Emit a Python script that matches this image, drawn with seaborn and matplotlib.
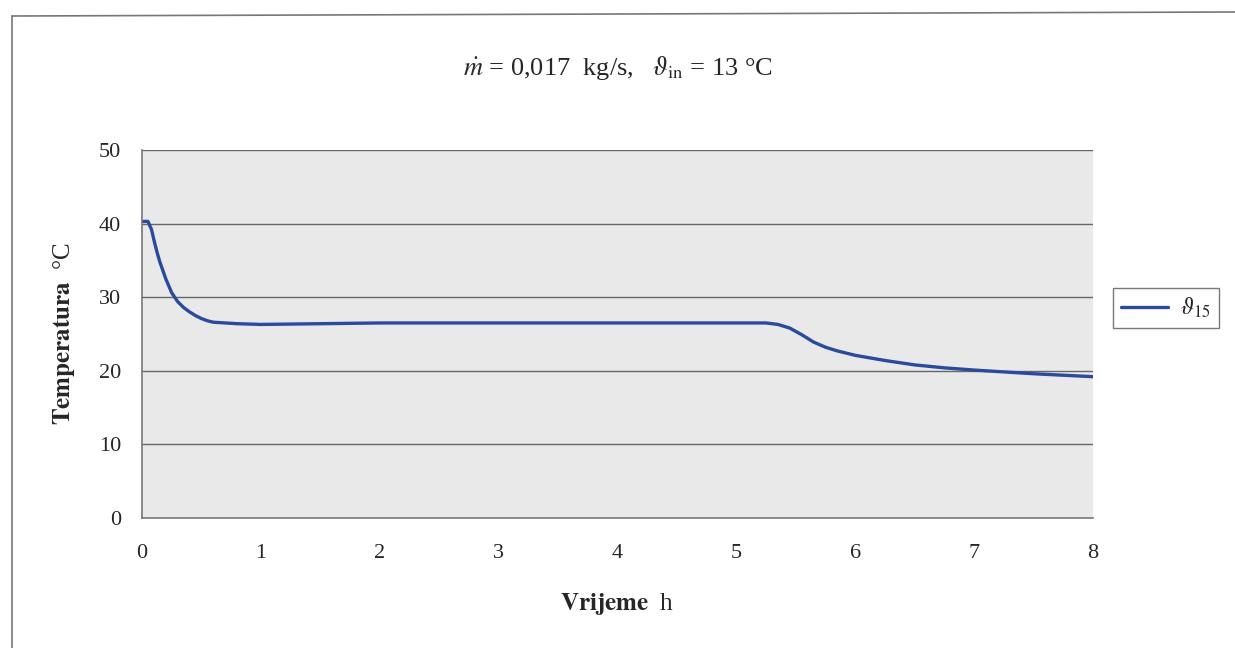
import matplotlib
matplotlib.use("Agg")
import matplotlib.pyplot as plt
import seaborn as sns
import pandas as pd
from matplotlib.lines import Line2D

# values
time_h = [0.0, 0.05, 0.08, 0.1, 0.125, 0.15, 0.2, 0.25, 0.3, 0.35, 0.4, 0.45, 0.5, 0.55, 0.6,
          0.7, 0.8, 1.0, 1.5, 2.0, 3.0, 4.0, 5.0, 5.25, 5.35, 5.45, 5.55, 5.65, 5.75, 5.85,
          6.0, 6.25, 6.5, 6.75, 7.0, 7.5, 8.0]
temp_c = [40.3, 40.3, 39.2, 37.8, 36.2, 34.8, 32.5, 30.6, 29.4, 28.6, 28.0, 27.5, 27.1, 26.8, 26.6,
          26.5, 26.4, 26.3, 26.4, 26.5, 26.5, 26.5, 26.5, 26.5, 26.3, 25.8, 24.9, 23.9, 23.2, 22.7,
          22.1, 21.4, 20.8, 20.4, 20.1, 19.6, 19.2]
x_ticks = [0, 1, 2, 3, 4, 5, 6, 7, 8]
y_ticks = [0, 10, 20, 30, 40, 50]

df = pd.DataFrame({"t": time_h, "T": temp_c})

sns.set_style("white")
plt.rcParams["font.family"] = ["Liberation Serif", "DejaVu Serif"]
plt.rcParams["mathtext.fontset"] = "stix"

fig = plt.figure(figsize=(12.35, 6.48), dpi=100)
ax = fig.add_axes([142 / 1235, 1 - 518 / 648, (1093 - 142) / 1235, (518 - 150) / 648])
ax.set_facecolor("#e9e9e9")

line_color = "#2a4a9c"
sns.lineplot(data=df, x="t", y="T", ax=ax, color=line_color, linewidth=2.4, legend=False)

ax.set_xlim(0, 8)
ax.set_ylim(0, 50)
ax.set_xticks(x_ticks)
ax.set_yticks(y_ticks)
ax.tick_params(axis="both", labelsize=16, length=5, color="#777777", direction="out")
ax.tick_params(axis="x", pad=14)
ax.tick_params(axis="y", pad=10)
for g in [10, 20, 30, 40, 50]:
    ax.axhline(g, color="#666666", linewidth=1.0, zorder=0.5)

for s in ["top", "right"]:
    ax.spines[s].set_visible(False)
for s in ["left", "bottom"]:
    ax.spines[s].set_color("#777777")
    ax.spines[s].set_linewidth(1.2)

ax.set_xlabel(r"$\mathbf{Vrijeme}$  h", fontsize=18, labelpad=20)
ax.set_ylabel(r"$\mathbf{Temperatura}$  °C", fontsize=18, labelpad=16)

fig.text(0.5, 1 - 68 / 648, r"$\dot{m}$ = 0,017  kg/s,   $\vartheta_{\rm in}$ = 13 °C",
         ha="center", va="center", fontsize=19)

handle = Line2D([0], [0], color=line_color, linewidth=2.4)
leg = fig.legend([handle], [r"$\vartheta_{15}$"], loc="center left",
                 bbox_to_anchor=(1113 / 1235, 1 - 308 / 648), frameon=True, fancybox=False,
                 fontsize=17, handlelength=2.0, handletextpad=0.5, borderpad=0.35,
                 borderaxespad=0.0)
leg.get_frame().set_edgecolor("#555555")
leg.get_frame().set_linewidth(1.0)

# outer chart frame
fig.add_artist(Line2D([12 / 1235, 12 / 1235], [0, 1 - 16 / 648], transform=fig.transFigure,
                      color="#777777", linewidth=1.2))
fig.add_artist(Line2D([12 / 1235, 1], [1 - 16 / 648, 1 - 12 / 648], transform=fig.transFigure,
                      color="#777777", linewidth=1.2))

fig.savefig("out.png", dpi=100, facecolor="white")
